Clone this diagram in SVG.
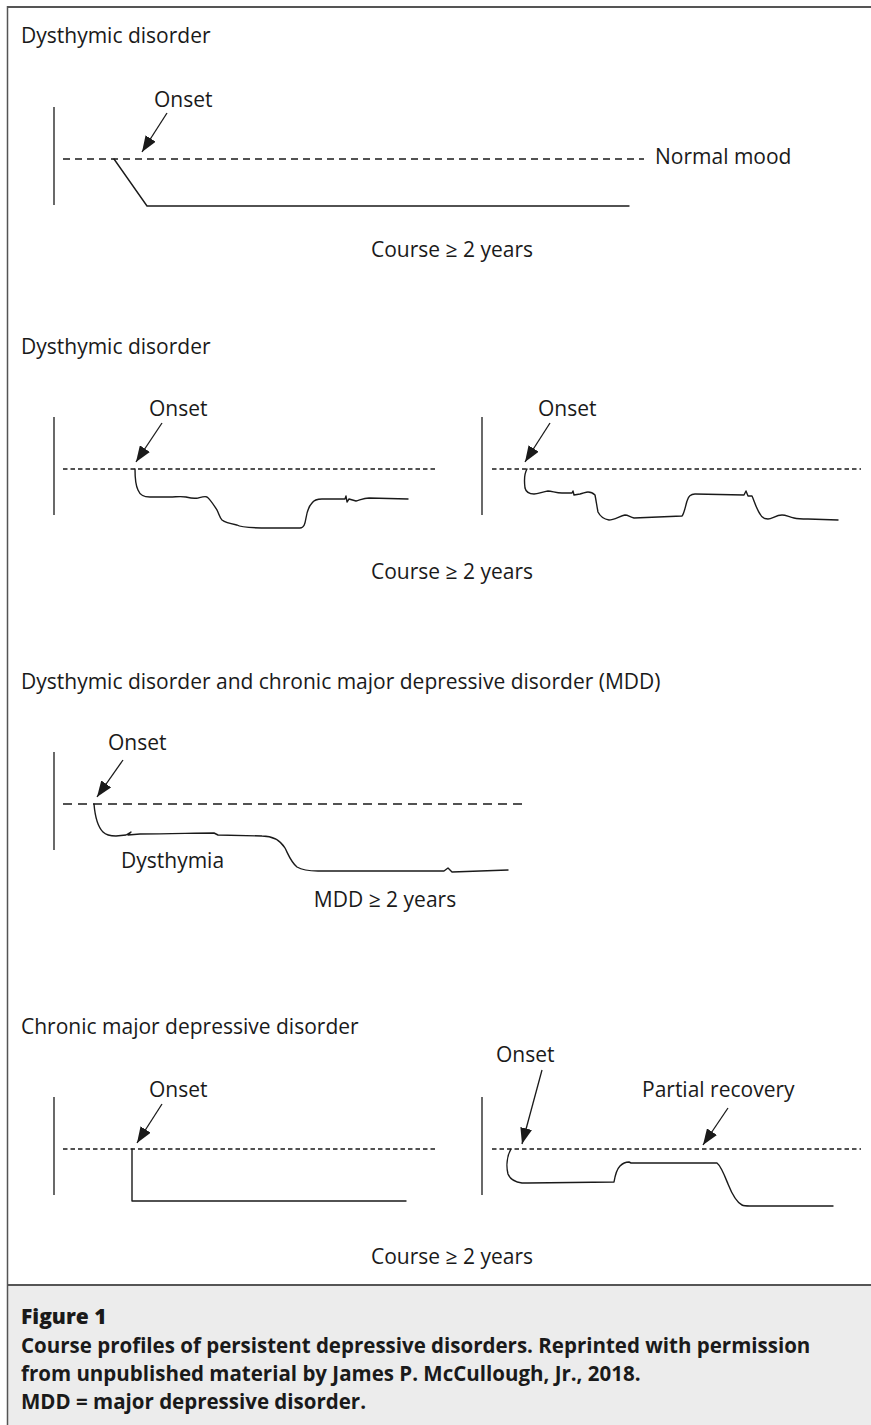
<svg xmlns="http://www.w3.org/2000/svg" width="871" height="1425" viewBox="0 0 871 1425">
<style>
.lbl{font-family:"Open Sans","Noto Sans",sans-serif;font-size:21px;fill:#1a1a1a}
.cap{font-family:"Open Sans","Noto Sans",sans-serif;font-size:20.5px;font-weight:700;fill:#1a1a1a}
.fig{font-family:"Open Sans","Noto Sans",sans-serif;font-size:21px;font-weight:800;fill:#1a1a1a}
.axis{stroke:#1a1a1a;stroke-width:1.3;fill:none}
.prof{stroke:#1a1a1a;stroke-width:1.4;fill:none;stroke-linejoin:round;stroke-linecap:round}
.dashA{stroke:#1a1a1a;stroke-width:1.3;stroke-dasharray:7 5;fill:none}
.dashB{stroke:#1a1a1a;stroke-width:1.3;stroke-dasharray:4.5 3;fill:none}
.dashC{stroke:#1a1a1a;stroke-width:1.3;stroke-dasharray:9 6;fill:none}
.arr{stroke:#1a1a1a;stroke-width:1.3;fill:none;marker-end:url(#ah)}
</style>
<defs>
<marker id="ah" markerUnits="userSpaceOnUse" markerWidth="18" markerHeight="12" refX="16" refY="6" orient="auto">
<path d="M0,0 L16,6 L0,12 Z" fill="#1a1a1a"/>
</marker>
</defs>
<rect x="0" y="0" width="871" height="1425" fill="#ffffff"/>
<g id="frame">
<rect x="8" y="1285" width="863" height="140" fill="#ececec"/>
<line x1="7" y1="7" x2="871" y2="7" stroke="#555" stroke-width="2"/>
<line x1="7.5" y1="6" x2="7.5" y2="1425" stroke="#555" stroke-width="1.5"/>
<line x1="7" y1="1285" x2="871" y2="1285" stroke="#555" stroke-width="2"/>
</g>
<g id="panel1">
<text class="lbl" x="21" y="43">Dysthymic disorder</text>
<text class="lbl" x="154" y="107">Onset</text>
<line class="axis" x1="54" y1="107" x2="54" y2="205"/>
<line class="dashA" x1="63" y1="159" x2="644" y2="159"/>
<text class="lbl" x="655" y="164">Normal mood</text>
<path class="prof" d="M114,159 L147,206 L629,206"/>
<text class="lbl" x="452" y="257" text-anchor="middle">Course ≥ 2 years</text>
</g>
<g id="panel2">
<text class="lbl" x="21" y="354">Dysthymic disorder</text>
<text class="lbl" x="149" y="416">Onset</text>
<line class="axis" x1="54" y1="417" x2="54" y2="515"/>
<line class="dashB" x1="63" y1="469" x2="436" y2="469"/>
<path class="prof" d="M135,469 C135,478 136,486 138,490 C140,495 143,497 150,497 L170,497 C176,497 180,496 186,497 C190,498 193,499 198,498 C202,497 205,496 207,497 C210,499 213,504 217,510 C219,514 220,518 222,520 C226,523 232,524 237,525 C240,527 250,528 270,528 L300,528 C304,528 305,524 306,518 C307,512 309,506 312,503 C314,500 317,499 322,499 L345,499 L346,496 L347,502 L349,499 L356,501 C360,500 364,498 369,498 L408,499"/>
<text class="lbl" x="538" y="416">Onset</text>
<line class="axis" x1="482" y1="417" x2="482" y2="515"/>
<line class="dashB" x1="492" y1="469" x2="861" y2="469"/>
<path class="prof" d="M527,469 C524,474 524,480 525,488 C526,492 529,494 534,494 C538,494 542,492 548,491 C552,491 556,493 562,493 L572,493 L573,491 L574,495 L580,494 C584,493 586,492 588,492 C591,492 593,493 595,495 C596,500 597,507 598,512 C600,516 603,519 609,520 C614,520 620,516 625,515 C628,515 630,517 634,518 L682,516 C684,514 685,508 687,501 C688,497 690,494 695,494 L744,495 L746,491 L748,496 L752,496 C754,500 756,508 760,514 C762,518 765,519 768,519 C772,519 776,515 782,515 C786,515 789,517 794,518 C798,519 802,519 808,519 L838,520"/>
<text class="lbl" x="452" y="579" text-anchor="middle">Course ≥ 2 years</text>
</g>
<g id="panel3">
<text class="lbl" x="21" y="689">Dysthymic disorder and chronic major depressive disorder (MDD)</text>
<text class="lbl" x="108" y="750">Onset</text>
<line class="axis" x1="54" y1="752" x2="54" y2="850"/>
<line class="dashC" x1="63" y1="804" x2="528" y2="804"/>
<path class="prof" d="M94,804 C95,816 97,826 103,832 C106,835 110,836 116,836 L126,835 L131,832 L128,835 L140,834 C170,834 195,833 214,833 L218,835 L262,836 C272,836 280,840 285,848 C289,856 291,862 297,867 C302,870 308,871 318,871 L444,871 L448,868 L452,872 L508,870"/>
<text class="lbl" x="121" y="868">Dysthymia</text>
<text class="lbl" x="385" y="907" text-anchor="middle">MDD ≥ 2 years</text>
</g>
<g id="panel4">
<text class="lbl" x="21" y="1034">Chronic major depressive disorder</text>
<text class="lbl" x="149" y="1097">Onset</text>
<line class="axis" x1="54" y1="1097" x2="54" y2="1195"/>
<line class="dashB" x1="63" y1="1149" x2="436" y2="1149"/>
<path class="prof" d="M132,1149 L132,1201 L406,1201"/>
<text class="lbl" x="496" y="1062">Onset</text>
<text class="lbl" x="642" y="1097">Partial recovery</text>
<line class="axis" x1="482" y1="1097" x2="482" y2="1195"/>
<line class="dashB" x1="492" y1="1149" x2="861" y2="1149"/>
<path class="prof" d="M511,1149 C507,1156 506,1166 508,1174 C510,1179 515,1182 522,1183 L528,1183 L614,1182 C615,1176 616,1170 620,1166 C623,1163 626,1162 629,1162 L631,1163 L717,1163 C721,1166 724,1174 728,1184 C732,1194 736,1202 742,1205 C744,1206 747,1206 750,1206 L833,1206"/>
<text class="lbl" x="452" y="1264" text-anchor="middle">Course ≥ 2 years</text>
</g>
<g id="connectors">
<line class="arr" x1="167" y1="113" x2="142" y2="152"/>
<line class="arr" x1="162" y1="423" x2="136" y2="462"/>
<line class="arr" x1="550" y1="423" x2="525" y2="462"/>
<line class="arr" x1="123" y1="760" x2="97" y2="797"/>
<line class="arr" x1="162" y1="1104" x2="137" y2="1143"/>
<line class="arr" x1="542" y1="1070" x2="522" y2="1144"/>
<line class="arr" x1="728" y1="1108" x2="703" y2="1145"/>
</g>
<g id="caption">
<text class="fig" x="21" y="1324">Figure 1</text>
<text class="cap" x="21" y="1353">Course profiles of persistent depressive disorders. Reprinted with permission</text>
<text class="cap" x="21" y="1381">from unpublished material by James P. McCullough, Jr., 2018.</text>
<text class="cap" x="21" y="1409">MDD = major depressive disorder.</text>
</g>
</svg>
